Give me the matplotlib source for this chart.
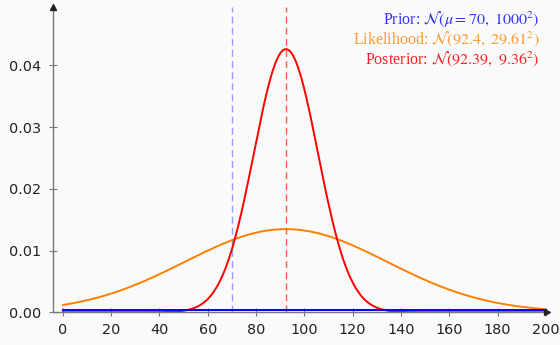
import numpy as np
import matplotlib
matplotlib.use("Agg")
import matplotlib.pyplot as plt

plt.rcParams['font.family'] = ['Liberation Serif', 'DejaVu Serif']
plt.rcParams['mathtext.fontset'] = 'stix'

names = ["Prior", "Likelihood", "Posterior"]
means = [70, 92.4, 92.39]
sds = [1000, 29.61, 9.36]
# spread of the drawn curves (wider than sd by ~sqrt(2))
drawn_widths = [1414, 41.9, 13.24]
colors = ["#0000ff", "#ff8000", "#ff0000"]
labels = [r"Prior: $\mathcal{N}(\mu = 70,\ 1000^2)$",
          r"Likelihood: $\mathcal{N}(92.4,\ 29.61^2)$",
          r"Posterior: $\mathcal{N}(92.39,\ 9.36^2)$"]
vlines_x = [70, 92.4]
vlines_c = ["#9a9aff", "#ff6040"]
xticks = list(range(0, 201, 20))
yticks = [0.0, 0.01, 0.02, 0.03, 0.04]

fig = plt.figure(figsize=(5.6, 3.45), dpi=100)
fig.patch.set_facecolor("#fafafa")
ax = fig.add_axes([0.0941, 0.0948, 0.8827, 0.8858])
ax.set_facecolor("#fafafa")

x = np.linspace(0, 200, 801)
def curve(x, m, s, w):
    return np.exp(-0.5 * ((x - m) / w) ** 2) / (s * np.sqrt(2 * np.pi))

for xv, c in zip(vlines_x, vlines_c):
    ax.axvline(xv, color=c, lw=1.0, dashes=(5, 3), zorder=1)

for i in [1, 2, 0]:
    ax.plot(x, curve(x, means[i], sds[i], drawn_widths[i]), color=colors[i], lw=1.4, zorder=3)

ax.set_xlim(-4.2, 200.5)
ax.set_ylim(0, 0.0495)
ax.set_xticks(xticks)
ax.set_yticks(yticks)
ax.set_yticklabels([f"{v:.2f}" for v in yticks])
ax.tick_params(direction='inout', length=6, width=0.8, colors="#777777",
               labelcolor="#222222", labelsize=10.4, pad=5)
for lab in ax.get_xticklabels() + ax.get_yticklabels():
    lab.set_family("DejaVu Sans")
for s in ["top", "right"]:
    ax.spines[s].set_visible(False)
for s in ["left", "bottom"]:
    ax.spines[s].set_color("#777777")
    ax.spines[s].set_linewidth(1.0)
ax.plot(1, 0, ">", transform=ax.transAxes, color="#222222", ms=4, clip_on=False, zorder=5)
ax.plot(0, 1, "^", transform=ax.transAxes, color="#222222", ms=4, clip_on=False, zorder=5)

text_colors = ["#3333ff", "#ff9a33", "#ff2020"]
for k, (lab, tc) in enumerate(zip(labels, text_colors)):
    fig.text(0.963, 0.944 - k * 0.058, lab, color=tc, fontsize=11.5, ha="right", va="center")

fig.savefig("out.png", dpi=100, facecolor=fig.get_facecolor())
